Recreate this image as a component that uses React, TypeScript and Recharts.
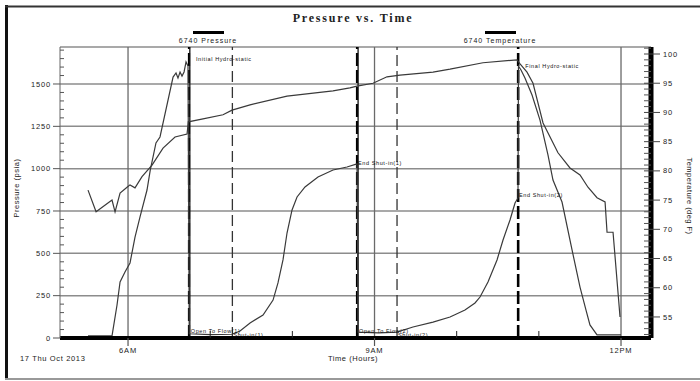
import React from 'react';
import {
  ComposedChart,
  Line,
  XAxis,
  YAxis,
  ReferenceLine,
  ReferenceDot,
  Legend,
} from 'recharts';

// gauge 6740 readings, hours after midnight, 17 Oct 2013
const pressureHours = [
  5.513, 5.805, 5.866, 5.903, 5.963, 6.024, 6.085, 6.146, 6.231, 6.27, 6.34, 6.389,
  6.548, 6.584, 6.608, 6.633, 6.657, 6.682, 6.706, 6.73, 6.745, 7.0, 7.266, 7.363,
  7.485, 7.643, 7.765, 7.825, 7.886, 7.935, 7.996, 8.057, 8.154, 8.312, 8.495, 8.665,
  8.787, 8.8, 9.05, 9.274, 9.468, 9.712, 9.919, 10.101, 10.223, 10.284, 10.381, 10.491,
  10.564, 10.649, 10.71, 10.746, 10.752, 10.783, 10.831, 10.917, 11.014, 11.111, 11.172,
  11.282, 11.404, 11.501, 11.574, 11.622, 11.708, 12.0,
];
const pressurePsia = [
  12, 12, 195, 331, 390, 443, 596, 715, 874, 990, 1152, 1187,
  1541, 1565, 1535, 1571, 1547, 1571, 1630, 1606, 25, 20, 22, 41,
  89, 136, 224, 325, 461, 620, 756, 833, 892, 951, 992, 1010,
  1028, 35, 30, 35, 65, 94, 124, 165, 207, 242, 331, 461,
  579, 697, 797, 827, 1606, 1583, 1535, 1435, 1287, 1081, 933,
  803, 520, 301, 165, 77, 18, 18,
];

const tempHours = [
  5.513, 5.611, 5.805, 5.842, 5.903, 5.988, 6.024, 6.085, 6.17, 6.292, 6.426, 6.572,
  6.718, 6.735, 6.913, 7.156, 7.266, 7.485, 7.935, 8.495, 8.7, 8.787, 8.982, 9.152,
  9.31, 9.712, 9.919, 10.32, 10.734, 10.771, 10.856, 10.929, 11.051, 11.233, 11.379,
  11.501, 11.598, 11.708, 11.806, 11.83, 11.903, 11.988,
];
const tempDegF = [
  76.7, 73.0, 75.0, 73.0, 76.2, 77.2, 77.6, 77.1, 79.0, 81.0, 83.9, 85.8,
  86.3, 88.4, 88.9, 89.6, 90.4, 91.3, 92.8, 93.7, 94.2, 94.5, 95.0, 96.1,
  96.4, 96.9, 97.4, 98.5, 99.0, 98.3, 96.9, 95.0, 88.2, 83.1, 80.5,
  79.3, 77.2, 75.4, 74.7, 69.5, 69.5, 55.0,
];

const eventHours = [6.742, 6.752, 7.27, 8.787, 8.8, 9.274, 10.746, 10.75];
const eventNames = [
  'Initial Hydro-static',
  'Open To Flow(1)',
  'Shut-in(1)',
  'End Shut-in(1)',
  'Open To Flow(2)',
  'Shut-in(2)',
  'End Shut-in(2)',
  'Final Hydro-static',
];
const eventLabelPsia = [1648, 41, 15, 1033, 41, 15, 844, 1606];

const pressureGrid = [250, 500, 750, 1000, 1250, 1500];
const hourGrid = [6, 9, 12];
const hourTicks = [6, 7, 8, 9, 10, 11, 12];
const hourLabels: Record<number, string> = { 6: '6AM', 9: '9AM', 12: '12PM' };
const seriesNames = ['6740 Pressure', '6740 Temperature'];

const P_MAX = 1718.5;
const T_MIN = 51.4;
const T_MAX = 101.2;
const H_MIN = 5.172;
const H_MAX = 12.365;

const pressureTicks = Array.from({ length: 35 }, (_, i) => i * 50);
const tempTicks = Array.from({ length: 50 }, (_, i) => 52 + i);

const FONT = '"Liberation Sans", Arial, sans-serif';
const INK = '#3a3a3a';
const GRID = '#8c8c8c';

const pressureData = pressureHours.map((h, i) => ({ h, psia: pressurePsia[i] }));
const tempData = tempHours.map((h, i) => ({ h, degF: tempDegF[i] }));

const PressureTick = ({ x, y, payload }: any) => {
  const v = payload.value;
  if (v % 250 !== 0) {
    return <line x1={x} x2={x + 4} y1={y} y2={y} stroke="#555" strokeWidth={1} />;
  }
  return (
    <g>
      <line x1={x - 7} x2={x} y1={y} y2={y} stroke="#555" strokeWidth={1} />
      <text x={x - 9} y={y + 2.6} textAnchor="end" fontSize={7.5} letterSpacing={0.8}
        fontFamily={FONT} fill="#222">{v}</text>
    </g>
  );
};

const TempTick = ({ x, y, payload }: any) => {
  const v = payload.value;
  if (v % 5 !== 0) {
    return <line x1={x - 7} x2={x} y1={y} y2={y} stroke="#555" strokeWidth={1} />;
  }
  return (
    <g>
      <line x1={x - 7} x2={x + 9} y1={y} y2={y} stroke="#444" strokeWidth={1} />
      <text x={x + 12} y={y + 2.6} textAnchor="start" fontSize={7.5} letterSpacing={0.8}
        fontFamily={FONT} fill="#222">{v}</text>
    </g>
  );
};

const HourTick = ({ x, y, payload }: any) => {
  const v = payload.value;
  const label = hourLabels[v];
  if (!label) {
    return <line x1={x} x2={x} y1={y - 7} y2={y} stroke="#222" strokeWidth={1} />;
  }
  return (
    <g>
      <line x1={x} x2={x} y1={y} y2={y + 8} stroke="#555" strokeWidth={1.2} />
      <text x={x} y={y + 15} textAnchor="middle" fontSize={7.5} letterSpacing={0.8}
        fontFamily={FONT} fill="#222">{label}</text>
    </g>
  );
};

const eventLineStyle = (name: string) => {
  if (name.startsWith('Open')) return { stroke: '#111', strokeWidth: 1.3 };
  if (name.startsWith('Shut')) return { stroke: '#333', strokeWidth: 1.3, strokeDasharray: '11 5' };
  return { stroke: '#000', strokeWidth: 2.2, strokeDasharray: '13 4' };
};

const LegendBox = ({ payload }: any) => {
  const centers = [208, 500];
  return (
    <div style={{ position: 'relative', width: 0, height: 0 }}>
      {(payload || []).map((entry: any, i: number) => (
        <div key={entry.value} style={{
          position: 'absolute', left: centers[i] - 50, top: 31, width: 100,
          textAlign: 'center', fontFamily: FONT, fontSize: 7, letterSpacing: 1,
          color: '#222', lineHeight: '8px',
        }}>
          <div style={{ width: 31, height: 3, background: '#000', margin: '0 auto 3px' }} />
          {entry.value}
        </div>
      ))}
    </div>
  );
};

export default function App() {
  return (
    <div style={{ position: 'absolute', left: 0, top: 0, width: 700, height: 381, background: '#fff' }}>
      <ComposedChart width={700} height={381} margin={{ top: 47, right: 0, bottom: 18, left: 15 }}>
        <XAxis
          dataKey="h"
          type="number"
          domain={[H_MIN, H_MAX]}
          allowDataOverflow
          ticks={hourTicks}
          interval={0}
          tickSize={0}
          tickMargin={0}
          tickLine={false}
          tick={<HourTick />}
          axisLine={{ stroke: '#000', strokeWidth: 4 }}
          height={25}
        />
        <YAxis
          yAxisId="p"
          type="number"
          domain={[0, P_MAX]}
          allowDataOverflow
          ticks={pressureTicks}
          interval={0}
          tickSize={0}
          tickMargin={0}
          tickLine={false}
          tick={<PressureTick />}
          axisLine={{ stroke: '#666', strokeWidth: 1 }}
          width={45}
        />
        <YAxis
          yAxisId="t"
          orientation="right"
          type="number"
          domain={[T_MIN, T_MAX]}
          allowDataOverflow
          ticks={tempTicks}
          interval={0}
          tickSize={0}
          tickMargin={0}
          tickLine={false}
          tick={<TempTick />}
          axisLine={{ stroke: '#000', strokeWidth: 5 }}
          width={49}
        />
        <Legend content={<LegendBox />} wrapperStyle={{ top: 0, left: 0, width: 0, height: 0 }} />

        <ReferenceLine yAxisId="p" y={P_MAX} stroke={GRID} strokeWidth={1.5} />
        {pressureGrid.map((v) => (
          <ReferenceLine key={v} yAxisId="p" y={v} stroke={GRID} strokeWidth={1.5} />
        ))}
        {hourGrid.map((h) => (
          <ReferenceLine key={h} yAxisId="p" x={h} stroke="#6a6a6a" strokeWidth={1.3} />
        ))}
        {eventHours.map((h, i) => (
          <ReferenceLine key={eventNames[i]} yAxisId="p" x={h} {...eventLineStyle(eventNames[i])} />
        ))}

        <Line
          yAxisId="p"
          data={pressureData}
          dataKey="psia"
          name={seriesNames[0]}
          type="linear"
          stroke={INK}
          strokeWidth={1.2}
          dot={false}
          legendType="plainline"
          isAnimationActive={false}
        />
        <Line
          yAxisId="t"
          data={tempData}
          dataKey="degF"
          name={seriesNames[1]}
          type="linear"
          stroke={INK}
          strokeWidth={1.2}
          dot={false}
          legendType="plainline"
          isAnimationActive={false}
        />

        {eventHours.map((h, i) => (
          <ReferenceDot
            key={'lbl' + eventNames[i]}
            yAxisId="p"
            x={h}
            y={eventLabelPsia[i]}
            r={0}
            fill="none"
            stroke="none"
            label={{
              value: eventNames[i],
              position: 'right',
              offset: eventNames[i].includes('Hydro') ? 7 : 1,
              fontSize: 5.5,
              letterSpacing: 0.6,
              fontFamily: FONT,
              fill: '#111',
            }}
          />
        ))}
      </ComposedChart>

      <svg width={700} height={381} style={{ position: 'absolute', left: 0, top: 0, pointerEvents: 'none' }}>
        <rect x={5} y={5} width={3} height={375} fill="#111" />
        <line x1={5} x2={700} y1={6.5} y2={6.5} stroke="#333" strokeWidth={2} />
        <line x1={5} x2={700} y1={379} y2={379} stroke="#999" strokeWidth={2} />
        <text x={353} y={22} textAnchor="middle" fontFamily='"Liberation Serif", "Times New Roman", serif'
          fontWeight="bold" fontSize={12} letterSpacing={1.8} fill="#222">Pressure vs. Time</text>
        <text transform="translate(19,188) rotate(-90)" textAnchor="middle" fontFamily={FONT}
          fontSize={7.5} letterSpacing={0.55} fill="#222">Pressure (psia)</text>
        <text transform="translate(687,196) rotate(90)" textAnchor="middle" fontFamily={FONT}
          fontSize={7.5} letterSpacing={0.45} fill="#222">Temperature (deg F)</text>
        <text x={20} y={361} fontFamily={FONT} fontSize={7.5} letterSpacing={0.65} fill="#222">17 Thu Oct 2013</text>
        <text x={353} y={361} textAnchor="middle" fontFamily={FONT} fontSize={7.5} letterSpacing={0.55}
          fill="#222">Time (Hours)</text>
      </svg>
    </div>
  );
}
